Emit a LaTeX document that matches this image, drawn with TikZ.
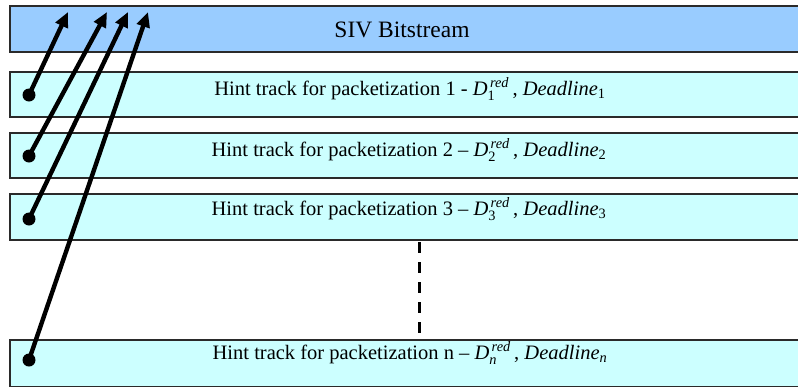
\documentclass[tikz,border=0pt]{standalone}
\usepackage{amsmath}
\usepackage{fontspec}
\setmainfont{Liberation Serif}
\usetikzlibrary{arrows.meta}
\definecolor{streamblue}{HTML}{99CCFF}
\definecolor{trackcyan}{HTML}{CCFFFF}
\definecolor{edgegray}{HTML}{2A2A2A}
% label of one hint track: number, dash, distortion and deadline index
\newcommand{\hintlabel}[3]{Hint track for packetization #1 #2 $\textit{D}_{#3}^{\,\textit{red}}$\,, \textit{Deadline}$_{#3}$}
\newcommand{\up}[1]{\textrm{#1}}
\newcommand{\itx}[1]{\textit{#1}}
\begin{document}
\begin{tikzpicture}[x=1pt,y=-1pt,
  band/.style={draw=edgegray,line width=1.4pt},
  bandtext/.style={anchor=base,font=\fontsize{20.5}{24}\selectfont,inner sep=0pt},
  hintarrow/.style={line width=4.4pt,-{Triangle[length=15pt,width=13pt]}},
  dotend/.style={circle,fill=black,inner sep=0pt,minimum size=13pt}]
\useasboundingbox (0,0) rectangle (798,386);
\clip (0,0) rectangle (798,386);

% bitstream and hint track bands
\draw[band,fill=streamblue] (10,6) rectangle (810,52);
\draw[band,fill=trackcyan] (10,72) rectangle (810,117);
\draw[band,fill=trackcyan] (10,133) rectangle (810,178);
\draw[band,fill=trackcyan] (10,194) rectangle (810,240);
\draw[band,fill=trackcyan] (10,340) rectangle (810,387);

\node[bandtext,font=\fontsize{23.5}{28}\selectfont] (siv) at (402,37) {SIV Bitstream};
\node[bandtext] (t1) at (410,95) {\hintlabel{1}{-}{\up{1}}};
\node[bandtext] (t2) at (409,156) {\hintlabel{2}{--}{\up{2}}};
\node[bandtext] (t3) at (409,215) {\hintlabel{3}{--}{\up{3}}};
\node[bandtext] (tn) at (410,359) {\hintlabel{n}{--}{\itx{n}}};

% elided tracks
\coordinate (gapTop) at (419,242);
\coordinate (gapBot) at (419,338);
\draw[line width=3pt,dash pattern=on 11pt off 9pt] (gapTop) -- (gapBot);

% pointers from each hint track into the bitstream
\node[dotend] (d1) at (29,95) {};
\node[dotend] (d2) at (29,156) {};
\node[dotend] (d3) at (29,219) {};
\node[dotend] (dn) at (29,360) {};
\coordinate (a1) at (68,12);
\coordinate (a2) at (107,12);
\coordinate (a3) at (128,12);
\coordinate (an) at (148,12);
\draw[hintarrow] (d1.center) -- (a1);
\draw[hintarrow] (d2.center) -- (a2);
\draw[hintarrow] (d3.center) -- (a3);
\draw[hintarrow] (dn.center) -- (an);
\end{tikzpicture}
\end{document}
